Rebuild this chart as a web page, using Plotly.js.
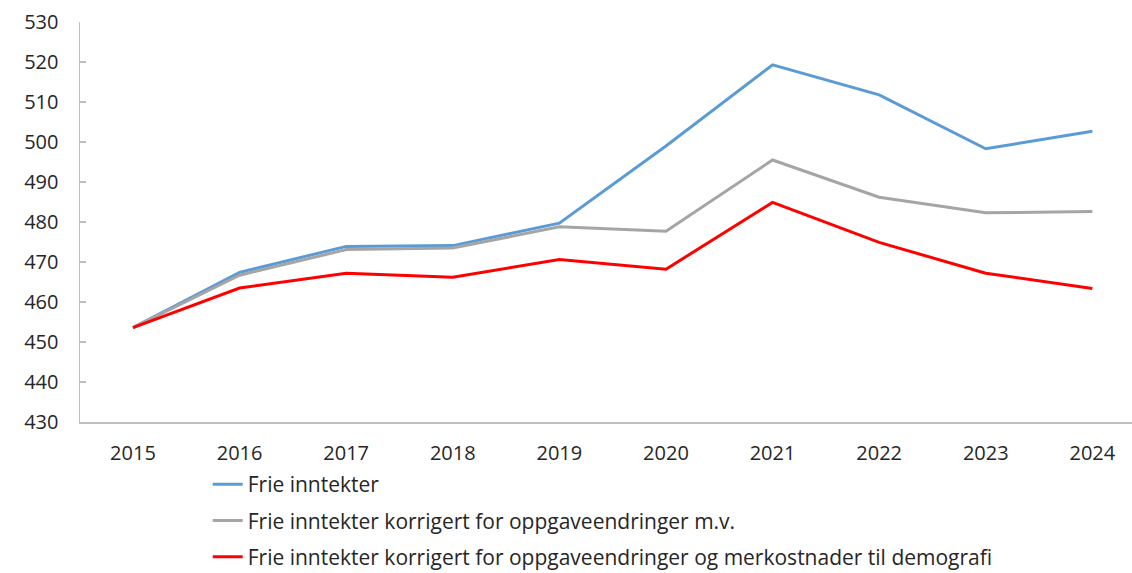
<!DOCTYPE html>
<html>
<head>
<meta charset="utf-8">
<script src="https://cdn.plot.ly/plotly-3.0.1.min.js"></script>
<style>html,body{margin:0;padding:0;background:#fff;overflow:hidden}#chart{width:1132px;height:573px}</style>
</head>
<body>
<div id="chart"></div>
<script>
const years = [2015, 2016, 2017, 2018, 2019, 2020, 2021, 2022, 2023, 2024];
const frieInntekter = [453.6, 467.4, 473.9, 474.1, 479.7, 499.0, 519.3, 511.8, 498.3, 502.7];
const korrigertOppgave = [453.6, 466.7, 473.1, 473.5, 478.8, 477.7, 495.5, 486.2, 482.3, 482.6];
const korrigertDemografi = [453.6, 463.5, 467.2, 466.2, 470.6, 468.2, 484.9, 474.9, 467.2, 463.4];
const seriesNames = [
  "Frie inntekter",
  "Frie inntekter korrigert for oppgaveendringer m.v.",
  "Frie inntekter korrigert for oppgaveendringer og merkostnader til demografi"
];
const yTicks = [430, 440, 450, 460, 470, 480, 490, 500, 510, 520, 530];

const font = "Open Sans, sans-serif";
const traces = [
  {x: years, y: frieInntekter, name: seriesNames[0], legendgroup: "a", line: {color: "#5B9BD5", width: 3}},
  {x: years, y: korrigertOppgave, name: seriesNames[1], legendgroup: "b", line: {color: "#A5A5A5", width: 3}},
  {x: years, y: korrigertDemografi, name: seriesNames[2], legendgroup: "c", line: {color: "#FF0000", width: 3}}
].map(t => Object.assign({type: "scatter", mode: "lines", hoverinfo: "x+y"}, t));

const layout = {
  width: 1132, height: 573,
  margin: {l: 80, r: 0, t: 22, b: 151, autoexpand: false},
  paper_bgcolor: "#fff", plot_bgcolor: "#fff",
  font: {family: font, size: 20, color: "#262626"},
  showlegend: true,
  legend: {
    orientation: "v", x: 0.1214, xanchor: "left", y: -0.105, yanchor: "top",
    font: {family: font, size: 21, color: "#262626"},
    tracegroupgap: 6, bgcolor: "rgba(0,0,0,0)"
  },
  xaxis: {
    type: "linear", range: [2014.503, 2024.372],
    tickmode: "array", tickvals: years, ticktext: years.map(String),
    showgrid: false, zeroline: false, showline: true, linecolor: "#BFBFBF", linewidth: 1.5,
    ticks: "", ticklabelstandoff: 12,
    tickfont: {family: font, size: 20, color: "#262626"}
  },
  yaxis: {
    range: [430, 530], tickmode: "array", tickvals: yTicks,
    showgrid: false, zeroline: false, showline: true, linecolor: "#BFBFBF", linewidth: 1.5,
    ticks: "inside", ticklen: 6, tickcolor: "#BFBFBF", tickwidth: 1.5,
    ticklabelstandoff: 16,
    tickfont: {family: font, size: 20, color: "#262626"}
  }
};
Plotly.newPlot("chart", traces, layout, {displayModeBar: false, staticPlot: true});
</script>
</body>
</html>
